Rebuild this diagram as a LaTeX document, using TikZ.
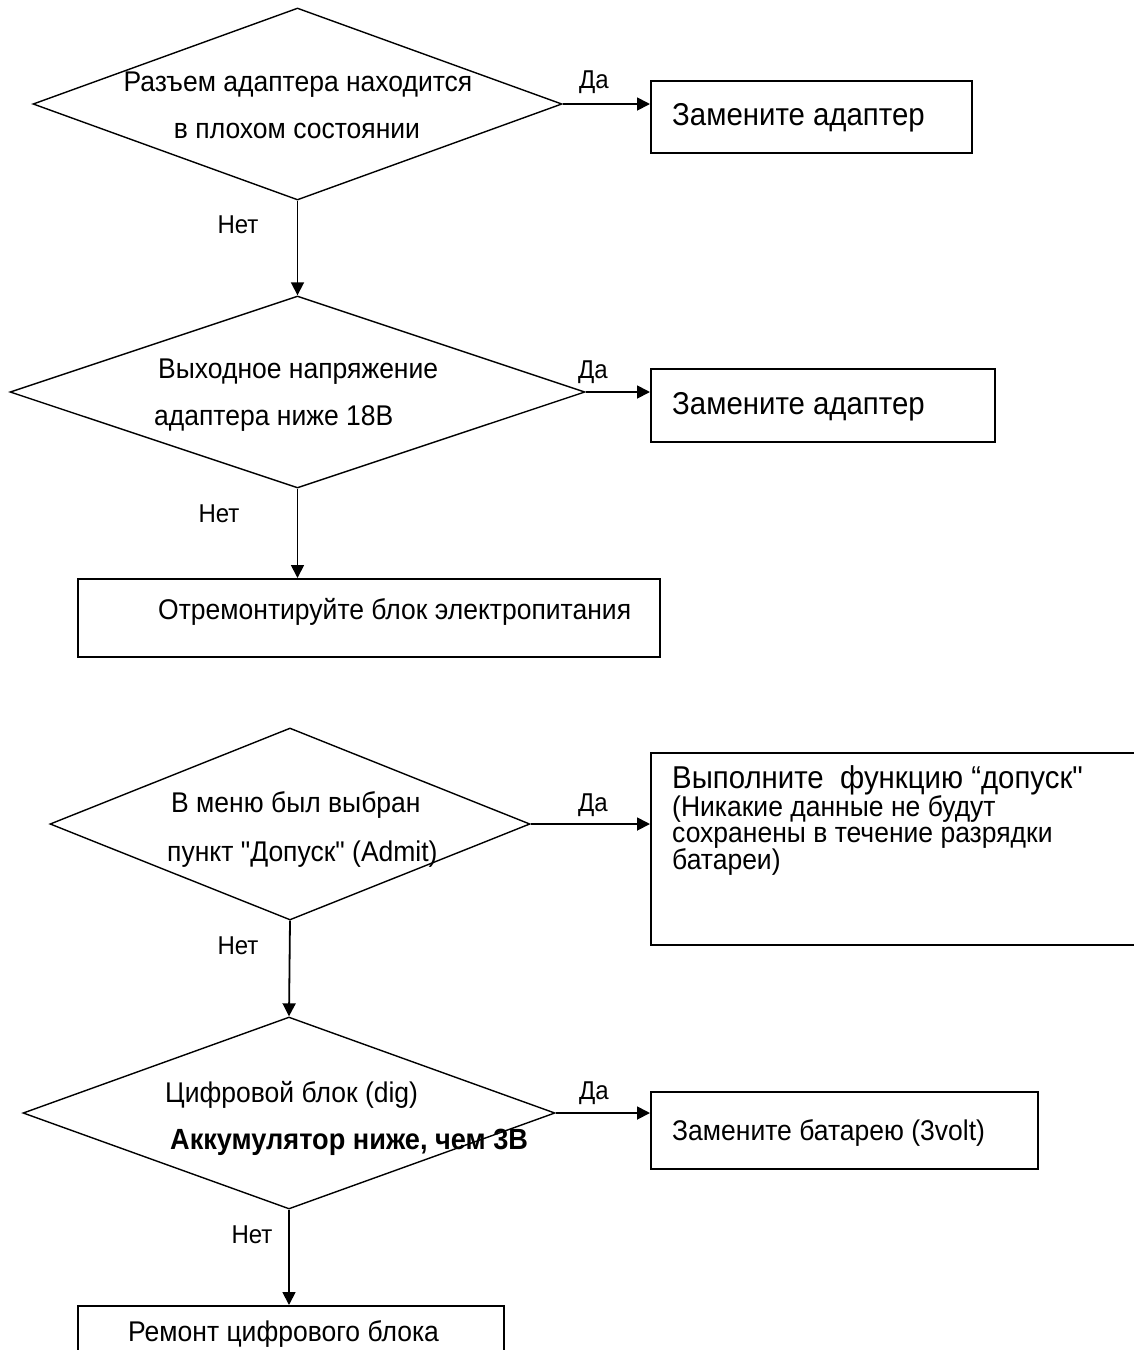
\documentclass[tikz,border=0pt]{standalone}
\usepackage{fontspec}
\setmainfont{Liberation Sans}[Ligatures=TeXOff, FakeStretch=0.93]
\usetikzlibrary{shapes.geometric,arrows.meta}
\tikzset{
  dia/.style={draw, diamond, line width=1.4pt, inner sep=0pt},
  boxn/.style={draw, rectangle, line width=1.6pt, inner sep=0pt, anchor=north west},
  arr/.style={line width=1.8pt, -{Triangle[length=13pt,width=13pt]}},
  txt/.style={inner sep=0pt, anchor=mid west, font=\fontsize{28.5}{32}\selectfont},
  ctxt/.style={inner sep=0pt, anchor=mid, font=\fontsize{28.5}{32}\selectfont},
  bigtxt/.style={inner sep=0pt, anchor=mid west, font=\fontsize{31.6}{35}\selectfont},
  lbl/.style={inner sep=0pt, anchor=mid, font=\fontsize{25.8}{30}\selectfont}
}
\begin{document}
\begin{tikzpicture}[x=1pt,y=-1pt]
\useasboundingbox (0,0) rectangle (1134,1350);
% ---------- first chart ----------
\node[dia, minimum width=529pt, minimum height=192pt] (d1) at (297.5,104) {};
\node[ctxt] (d1a) at (298,89) {Разъем адаптера находится};
\node[ctxt] (d1b) at (297,136) {в плохом состоянии};
\node[boxn, minimum width=321pt, minimum height=72pt] (b1) at (650,80) {};
\node[bigtxt] (b1t) at (672,123) {Замените адаптер};
\draw[arr] (d1.east) -- (d1.east -| b1.west);
\node[lbl] (y1) at (594,86) {Да};
\node[lbl] (n1) at (238,231) {Нет};

\node[dia, minimum width=575pt, minimum height=192pt] (d2) at (297.5,392) {};
\node[txt] (d2a) at (158,376) {Выходное напряжение};
\node[txt] (d2b) at (154,423) {адаптера ниже 18В};
\draw[arr] (d1.south) -- (d2.north);
\node[boxn, minimum width=344pt, minimum height=73pt] (b2) at (650,368) {};
\node[bigtxt] (b2t) at (672,412) {Замените адаптер};
\draw[arr] (d2.east) -- (d2.east -| b2.west);
\node[lbl] (y2) at (593,376) {Да};
\node[lbl] (n2) at (219,520) {Нет};

\node[boxn, minimum width=582pt, minimum height=78pt] (b3) at (77,578) {};
\node[txt] (b3t) at (158,617) {Отремонтируйте блок электропитания};
\draw[arr] (d2.south) -- (d2.south |- b3.north);

% ---------- second chart ----------
\node[dia, minimum width=480pt, minimum height=192pt] (d3) at (290,824) {};
\node[txt] (d3a) at (171,810) {В меню был выбран};
\node[txt] (d3b) at (167,859) {пункт "Допуск" (Admit)};
\node[boxn, minimum width=500pt, minimum height=192pt] (b4) at (650,752) {};
\node[bigtxt] (b4a) at (672,786) {Выполните\ \ функцию “допуск"};
\node[txt] (b4b) at (672,814) {(Никакие данные не будут};
\node[txt] (b4c) at (672,840) {сохранены в течение разрядки};
\node[txt] (b4d) at (672,867) {батареи)};
\draw[arr] (d3.east) -- (d3.east -| b4.west);
\node[lbl] (y3) at (593,809) {Да};
\node[lbl] (n3) at (238,952) {Нет};

\node[dia, minimum width=532pt, minimum height=192pt] (d4) at (289,1113) {};
\node[txt] (d4a) at (165,1100) {Цифровой блок (dig)};
\node[txt, font=\fontsize{29.2}{32}\selectfont\bfseries] (d4b) at (170,1147) {Аккумулятор ниже, чем 3В};
\draw[arr] (d3.south) -- (d4.north);
\node[boxn, minimum width=387pt, minimum height=77pt] (b5) at (650,1091) {};
\node[txt] (b5t) at (672,1138) {Замените батарею (3volt)};
\draw[arr] (d4.east) -- (d4.east -| b5.west);
\node[lbl] (y4) at (594,1097) {Да};
\node[lbl] (n4) at (252,1241) {Нет};

\node[boxn, minimum width=426pt, minimum height=80pt] (b6) at (77,1305) {};
\node[txt] (b6t) at (128,1339) {Ремонт цифрового блока};
\draw[arr] (d4.south) -- (d4.south |- b6.north);
\end{tikzpicture}
\end{document}
